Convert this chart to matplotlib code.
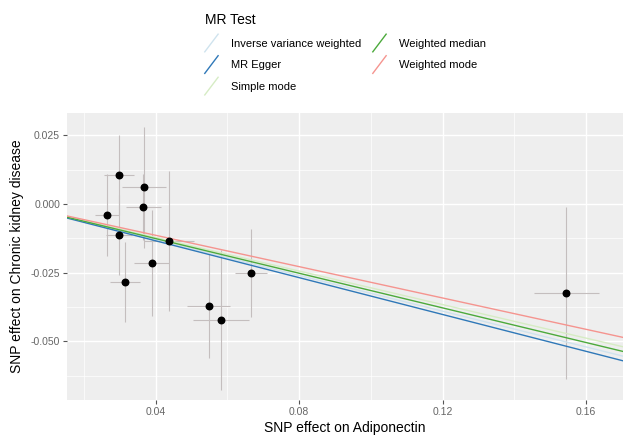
import matplotlib
matplotlib.use("Agg")
import matplotlib.pyplot as plt
from matplotlib.legend_handler import HandlerBase
from matplotlib.lines import Line2D
import numpy as np

plt.rcParams['font.family'] = ['Liberation Sans', 'DejaVu Sans']

# SNP effects
beta_exp = [0.0299, 0.0368, 0.0366, 0.0264, 0.0297, 0.0437, 0.0389, 0.0315, 0.0548, 0.0582, 0.0665, 0.1545]
se_exp = [0.0042, 0.0061, 0.0049, 0.0033, 0.0036, 0.0070, 0.0049, 0.0042, 0.0060, 0.0078, 0.0045, 0.0091]
beta_out = [0.0106, 0.0061, -0.0010, -0.0040, -0.0113, -0.0134, -0.0214, -0.0283, -0.0371, -0.0422, -0.0252, -0.0323]
se_out = [0.0146, 0.0220, 0.0120, 0.0149, 0.0146, 0.0255, 0.0193, 0.0146, 0.0188, 0.0255, 0.0160, 0.0313]

# MR estimates
methods = ["Inverse variance weighted", "MR Egger", "Simple mode", "Weighted median", "Weighted mode"]
slopes = [-0.325, -0.335, -0.305, -0.315, -0.285]
intercepts = [0.0, 0.0, 0.0, 0.0, 0.0]
colours = ["#cfe3ee", "#2f78b8", "#d6ecc4", "#4caa3c", "#f5948f"]

x_ticks = [0.04, 0.08, 0.12, 0.16]
y_ticks = [-0.050, -0.025, 0.000, 0.025]


class DiagHandler(HandlerBase):
    # ggplot style abline key: a diagonal line
    def create_artists(self, legend, orig_handle, xdescent, ydescent,
                       width, height, fontsize, trans):
        ln = Line2D([-xdescent, -xdescent + width],
                    [-ydescent - 2, -ydescent + height + 2],
                    color=orig_handle.get_color(),
                    lw=orig_handle.get_linewidth(), transform=trans)
        return [ln]


fig = plt.figure(figsize=(6.25, 4.36), dpi=100)
ax = fig.add_axes([0.1072, 0.0826, 0.8896, 0.6584])
ax.set_facecolor("#EEEEEE")

ax.errorbar(beta_exp, beta_out, xerr=se_exp, yerr=se_out, fmt="none",
            ecolor="#C4BEBE", elinewidth=0.8, capsize=0, zorder=2)
ax.scatter(beta_exp, beta_out, s=22, color="black", zorder=4)

handles = []
for m, s, b, c in zip(methods, slopes, intercepts, colours):
    ax.axline((0, b), slope=s, color=c, lw=1.0, zorder=3)
    handles.append(Line2D([], [], color=c, lw=1.0, label=m))

ax.set_xlim(0.0153, 0.1703)
ax.set_ylim(-0.0713, 0.0331)
ax.set_xticks(x_ticks)
ax.set_xticklabels(["0.04", "0.08", "0.12", "0.16"])
ax.set_yticks(y_ticks)
ax.set_yticklabels(["-0.050", "-0.025", "0.000", "0.025"])
ax.set_xticks([0.02, 0.06, 0.10, 0.14], minor=True)
ax.set_yticks([-0.0625, -0.0375, -0.0125, 0.0125], minor=True)
ax.grid(True, which="major", color="white", lw=1.0)
ax.grid(True, which="minor", color="white", lw=0.5)
ax.set_axisbelow(True)
for sp in ax.spines.values():
    sp.set_visible(False)
ax.tick_params(which="major", length=3, color="#555555", labelsize=7.5,
               labelcolor="#666666", pad=2)
ax.tick_params(which="minor", length=0)

ax.set_xlabel("SNP effect on Adiponectin", fontsize=10, labelpad=3)
ax.set_ylabel("SNP effect on Chronic kidney disease", fontsize=10, labelpad=5)

leg = fig.legend(handles=handles, loc="upper center", bbox_to_anchor=(0.553, 0.992),
                 ncol=2, title="MR Test", fontsize=8, title_fontsize=10,
                 frameon=False, handler_map={Line2D: DiagHandler()},
                 handlelength=1.2, handleheight=1.3, labelspacing=0.85,
                 columnspacing=1.0, handletextpad=1.2, alignment="left")

fig.savefig("out.png", dpi=100)
